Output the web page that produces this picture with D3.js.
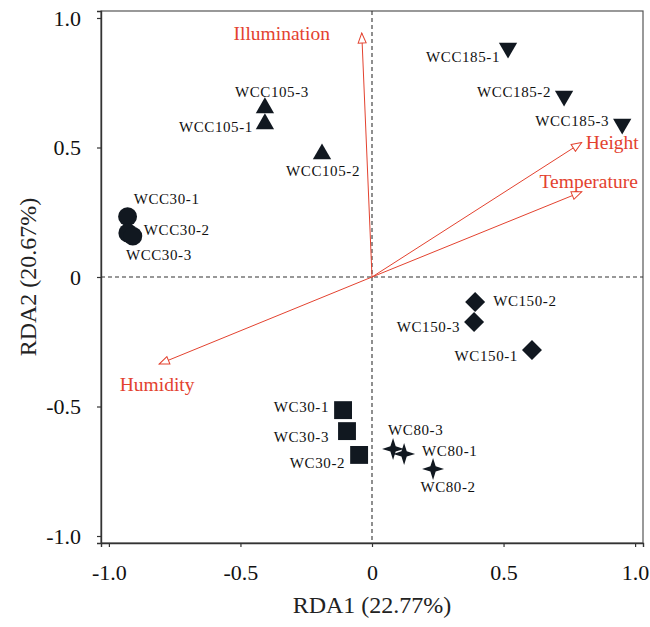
<!DOCTYPE html>
<html>
<head>
<meta charset="utf-8">
<script src="https://cdn.jsdelivr.net/npm/d3@7"></script>
<style>
body{margin:0;background:#fff;}
svg text{font-family:"Liberation Serif","Times New Roman",serif;}
</style>
</head>
<body>
<svg id="chart" width="650" height="627"></svg>
<script>
// sample scores
var sampleNames=['WCC30-1','WCC30-2','WCC30-3','WCC105-1','WCC105-2','WCC105-3','WCC185-1','WCC185-2','WCC185-3',
  'WC30-1','WC30-2','WC30-3','WC80-1','WC80-2','WC80-3','WC150-1','WC150-2','WC150-3'];
var sampleX=[-0.929,-0.928,-0.909,-0.407,-0.190,-0.407,0.517,0.730,0.951,
  -0.110,-0.049,-0.095,0.122,0.232,0.080,0.608,0.392,0.388];
var sampleY=[0.233,0.170,0.158,0.591,0.475,0.653,0.884,0.699,0.591,
  -0.514,-0.687,-0.595,-0.683,-0.741,-0.664,-0.282,-0.097,-0.174];
var sampleShape=['circle','circle','circle','tri','tri','tri','triDown','triDown','triDown',
  'square','square','square','star','star','star','diamond','diamond','diamond'];

// environmental arrows
var envNames=['Illumination','Height','Temperature','Humidity'];
var envX=[-0.039,0.797,0.797,-0.809];
var envY=[0.942,0.519,0.329,-0.336];

var xTicks=[-1,-0.5,0,0.5,1];
var yTicks=[-1,-0.5,0,0.5,1];
var tickLabel=function(d){return d==0?'0':d.toFixed(1)};

// label placement, pixel offsets from the point [dx,dy,anchor]
var labelOff={
  'WCC30-1':[39,-18,'middle'],'WCC30-2':[16,-3,'start'],'WCC30-3':[26,19,'middle'],
  'WCC105-1':[-12,3,'end'],'WCC105-2':[1,17,'middle'],'WCC105-3':[7,-16,'middle'],
  'WCC185-1':[-8,9,'end'],'WCC185-2':[-13,-4,'end'],'WCC185-3':[-13,-3,'end'],
  'WC30-1':[-14,-3,'end'],'WC30-3':[-18,6,'end'],'WC30-2':[-14,8,'end'],
  'WC80-3':[-5,-19,'start'],'WC80-1':[18,-3,'start'],'WC80-2':[15,18,'middle'],
  'WC150-2':[18,-1,'start'],'WC150-3':[-14,5,'end'],'WC150-1':[-14,6,'end']
};
var envLabelPos={
  'Illumination':[-80,0,'middle'],'Height':[4,0,'start'],
  'Temperature':[7,-11,'middle'],'Humidity':[-2,20,'middle']
};

var svg=d3.select('#chart');
var pL=101,pR=643,pT=11,pB=543;
var x=d3.scaleLinear().domain([-1.03,1.03]).range([pL,pR]);
var y=d3.scaleLinear().domain([-1.027,1.027]).range([pB,pT]);
var red='#e3422f';

// frame
svg.append('rect')
  .attr('x',pL).attr('y',pT)
  .attr('width',pR-pL).attr('height',pB-pT)
  .attr('fill','none').attr('stroke','#555').attr('stroke-width',1.2);

// axes
var xAxis=d3.axisBottom(x).tickValues(xTicks).tickFormat(tickLabel).tickSize(4).tickPadding(17);
var yAxis=d3.axisLeft(y).tickValues(yTicks).tickFormat(tickLabel).tickSize(4).tickPadding(16);
var gx=svg.append('g').attr('transform','translate(0,'+pB+')').call(xAxis);
var gy=svg.append('g').attr('transform','translate('+pL+',0)').call(yAxis);
[gx,gy].forEach(function(g){
  g.select('.domain').attr('stroke','#333').attr('stroke-width',1.4);
  g.selectAll('.tick line').attr('stroke','#333').attr('stroke-width',1.2);
  g.selectAll('.tick text').attr('fill','#111').style('font-size','22px')
    .style('font-family','"Liberation Serif",serif');
});

svg.append('text').attr('x',372).attr('y',613).attr('text-anchor','middle')
  .style('font-size','24px').attr('fill','#222').text('RDA1 (22.77%)');
svg.append('text').attr('transform','translate(36,277) rotate(-90)').attr('text-anchor','middle')
  .style('font-size','24px').attr('fill','#222').text('RDA2 (20.67%)');

// zero lines
svg.append('line').attr('x1',x(0)).attr('x2',x(0)).attr('y1',pT).attr('y2',pB)
  .attr('stroke','#333').attr('stroke-width',1.1).attr('stroke-dasharray','4,3');
svg.append('line').attr('x1',pL).attr('x2',pR).attr('y1',y(0)).attr('y2',y(0))
  .attr('stroke','#333').attr('stroke-width',1.1).attr('stroke-dasharray','4,3');

// arrows
var defs=svg.append('defs');
defs.append('marker').attr('id','head')
  .attr('viewBox','0 0 12 10').attr('refX',11).attr('refY',5)
  .attr('markerWidth',12).attr('markerHeight',10).attr('markerUnits','userSpaceOnUse')
  .attr('orient','auto')
  .append('path').attr('d','M1,1 L11,5 L1,9 Z')
  .attr('fill','#fff').attr('stroke',red).attr('stroke-width',1);

envNames.forEach(function(n,i){
  svg.append('line')
    .attr('x1',x(0)).attr('y1',y(0))
    .attr('x2',x(envX[i])).attr('y2',y(envY[i]))
    .attr('stroke',red).attr('stroke-width',1)
    .attr('marker-end','url(#head)');
  var p=envLabelPos[n];
  svg.append('text')
    .attr('x',x(envX[i])+p[0]).attr('y',y(envY[i])+p[1])
    .attr('dy','0.35em').attr('text-anchor',p[2])
    .style('font-size','19.5px').attr('fill',red).text(n);
});

// symbols
var star4=function(r){
  var s=r*0.34,pts=[];
  for(var k=0;k<8;k++){
    var a=k*Math.PI/4-Math.PI/2;
    var rr=(k%2==0)?r:s;
    pts.push([rr*Math.cos(a),rr*Math.sin(a)]);
  }
  return 'M'+pts.map(function(p){return p[0].toFixed(2)+','+p[1].toFixed(2)}).join('L')+'Z';
};
var shapePath=function(s){
  switch(s){
    case 'circle': return d3.symbol(d3.symbolCircle,280)();
    case 'square': return d3.symbol(d3.symbolSquare,320)();
    case 'tri': return d3.symbol(d3.symbolTriangle,145)();
    case 'triDown': return d3.symbol(d3.symbolTriangle,145)();
    case 'diamond': return d3.symbol(d3.symbolSquare,200)();
    case 'star': return star4(11);
  }
};
var shapeRot={triDown:180,diamond:45};

sampleNames.forEach(function(n,i){
  var px=x(sampleX[i]),py=y(sampleY[i]);
  var rot=shapeRot[sampleShape[i]]||0;
  svg.append('path')
    .attr('d',shapePath(sampleShape[i]))
    .attr('transform','translate('+px+','+py+') rotate('+rot+')')
    .attr('fill','#111820');
  var o=labelOff[n];
  svg.append('text')
    .attr('x',px+o[0]).attr('y',py+o[1])
    .attr('dy','0.35em').attr('text-anchor',o[2])
    .style('font-size','15px').style('letter-spacing','0.6px')
    .attr('fill','#111').text(n);
});
</script>
</body>
</html>
